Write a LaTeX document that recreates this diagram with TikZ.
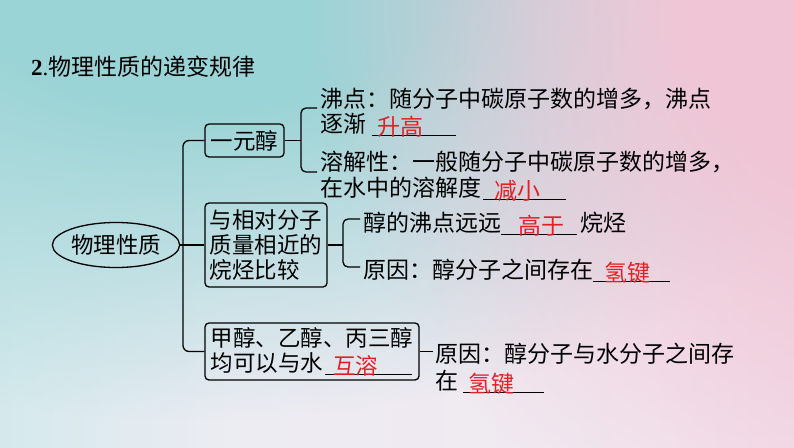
\documentclass[tikz,border=0pt]{standalone}
\usepackage{fontspec}
\setmainfont{Liberation Serif}
\newfontfamily\cjk{Noto Sans CJK SC}
\usetikzlibrary{shapes.geometric,fadings,calc}
\definecolor{bgteal}{RGB}{170,229,225}
\definecolor{bgtealtop}{RGB}{155,212,214}
\definecolor{bgmid}{RGB}{237,236,243}
\definecolor{bgmidb}{RGB}{242,232,240}
\definecolor{bgpink}{RGB}{245,206,223}
\definecolor{bgpinktop}{RGB}{240,198,214}
\definecolor{ansred}{RGB}{226,32,38}
\pgfdeclarehorizontalshading{bgshade}{100bp}{color(0bp)=(bgteal); color(40bp)=(bgmid); color(66bp)=(bgmidb); color(95bp)=(bgpink); color(100bp)=(bgpink)}
\pgfdeclareradialshading{radfadeshade}{\pgfpoint{0bp}{0bp}}{color(0bp)=(white); color(8bp)=(white); color(25bp)=(black); color(50bp)=(black)}
\pgfdeclarefading{radfade}{\pgfuseshading{radfadeshade}}
\newcommand\fillblank[3]{\rlap{\rule[-4.2pt]{#1}{1.4pt}}\makebox[#1][l]{\hspace{#2}\raisebox{-3pt}{\textcolor{ansred}{#3}}}}
\begin{document}
\begin{tikzpicture}[x=1pt,y=-1pt,
  txt/.style={anchor=base west, inner sep=0pt, font=\cjk\fontsize{23}{25}\selectfont},
  box/.style={draw, line width=1.3pt, rounded corners=4pt, align=left, inner sep=0pt,
    font=\cjk\fontsize{22.5}{25}\selectfont},
  ell/.style={draw, ellipse, line width=1.3pt, inner sep=0pt, minimum width=110, minimum height=45,
    font=\cjk\fontsize{22.5}{25}\selectfont},
  conn/.style={line width=1.3pt}]
\useasboundingbox (0,0) rectangle (794,447);
% background
\shade[shading=bgshade] (0,0) rectangle (794,447);
\fill[bgtealtop, path fading=radfade] (200,-40) ellipse [x radius=760, y radius=460];
\fill[bgpinktop, path fading=radfade] (870,10) ellipse [x radius=560, y radius=560];
% title
\node[anchor=base west, inner sep=0pt, font=\fontsize{23}{25}\selectfont] (title) at (31,75) {\textbf{2}.{\cjk 物理性质的递变规律}};
% root and boxes
\node[ell] (root) at (116,245) {物理性质};
\node[box, minimum width=79, minimum height=33] (b1) at (244.5,140.5) {一元醇};
\node[box, minimum width=122, minimum height=84] (b2) at (266,245) {与相对分子\\质量相近的\\烷烃比较};
\node[box, minimum width=214, minimum height=57] (b3) at (312,351.5) {甲醇、乙醇、丙三醇\\均可以与水\hspace{2pt}\fillblank{87pt}{8pt}{互溶}};
% texts
\node[txt] (t1a) at (320,107) {沸点：随分子中碳原子数的增多，沸点};
\node[txt] (t1b) at (320,132) {逐渐\hspace{6pt}\fillblank{84pt}{5pt}{升高}};
\node[txt] (t2a) at (320,170) {溶解性：一般随分子中碳原子数的增多，};
\node[txt] (t2b) at (320,196) {在水中的溶解度\hspace{2pt}\fillblank{83pt}{11pt}{减小}};
\node[txt] (t3) at (363,231) {醇的沸点远远\fillblank{76pt}{17pt}{高于}\hspace{3pt}烷烃};
\node[txt] (t4) at (363,278) {原因：醇分子之间存在\fillblank{77pt}{11pt}{氢键}};
\node[txt] (t5a) at (435,362) {原因：醇分子与水分子之间存};
\node[txt] (t5b) at (435,389) {在\hspace{5pt}\fillblank{81pt}{5pt}{氢键}};
% connectors
\coordinate (tr) at (183,245);
\draw[conn] (root) -- (b2);
\draw[conn, rounded corners=6pt] (b1.west) -| (tr) |- (b3.west);
\coordinate (k1) at (301,140.5);
\coordinate (k1a) at (317,108);
\coordinate (k1b) at (317,172);
\draw[conn] (b1.east) -- (k1);
\draw[conn, rounded corners=5pt] (k1a) -| (k1) |- (k1b);
\coordinate (k2) at (343,245);
\coordinate (k2a) at (360,219);
\coordinate (k2b) at (360,267);
\draw[conn] (b2.east) -- (k2);
\draw[conn, rounded corners=5pt] (k2a) -| (k2) |- (k2b);
\coordinate (k3) at (433,351.5);
\draw[conn] (b3.east) -- (k3);
\end{tikzpicture}
\end{document}
